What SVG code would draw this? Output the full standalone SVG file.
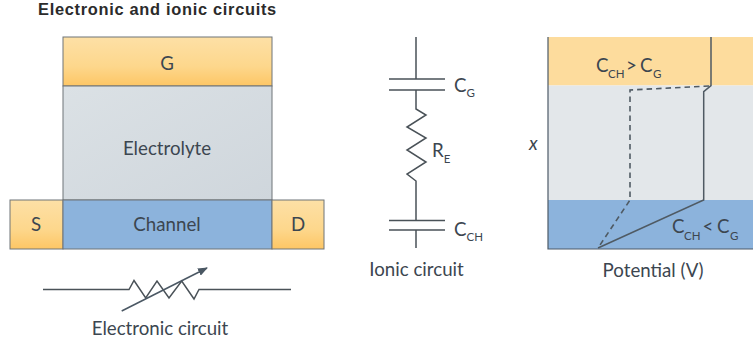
<svg xmlns="http://www.w3.org/2000/svg" width="753" height="349" viewBox="0 0 753 349">
<style>
text{font-family:"Lato","Open Sans","Liberation Sans",sans-serif;font-size:18.7px;fill:#3c4650;}
.title{font-family:"Liberation Sans",Arial,sans-serif;font-size:16.400px;font-weight:700;fill:#2b2b2b;letter-spacing:0.7px;}
.sub{font-size:11.500px;}
.box{stroke:#6f7478;stroke-width:1;}
.w{fill:none;stroke:#4a5258;stroke-width:1.5;}
.m{text-anchor:middle;}
.dash{fill:none;stroke:#4f5a63;stroke-width:1.6;stroke-dasharray:5.500 4;}
</style>
<defs>
<linearGradient id="or" x1="0" y1="0" x2="0" y2="1"><stop offset="0" stop-color="#fde0a6"/><stop offset="0.6" stop-color="#fdd78c"/><stop offset="1" stop-color="#fdc665"/></linearGradient>
<linearGradient id="gr" x1="0" y1="0" x2="1" y2="1"><stop offset="0" stop-color="#dbe1e5"/><stop offset="1" stop-color="#cfd6dc"/></linearGradient>
<marker id="ah" markerUnits="userSpaceOnUse" markerWidth="10" markerHeight="8" refX="9" refY="4" orient="auto"><path d="M0,0L10,4L0,8Z" fill="#4a5763"/></marker>
</defs>
<text class="title" x="38" y="15">Electronic and ionic circuits</text>
<g id="gate"><rect class="box" x="63" y="37" width="209" height="49" fill="url(#or)"/><text class="m" x="167" y="70">G</text></g>
<g id="electrolyte"><rect class="box" x="63" y="86" width="209" height="114" fill="url(#gr)"/><text class="m" x="167" y="155">Electrolyte</text></g>
<g id="source"><rect class="box" x="10" y="200" width="53" height="49" fill="url(#or)"/><text class="m" x="36" y="231">S</text></g>
<g id="channel"><rect class="box" x="63" y="200" width="209" height="49" fill="#8cb3dc"/><text class="m" x="167" y="231">Channel</text></g>
<g id="drain"><rect class="box" x="272" y="200" width="52" height="49" fill="url(#or)"/><text class="m" x="298" y="231">D</text></g>
<g id="connectors">
<path class="w" d="M43,289.500H129L134,280.500L145.700,298L157,281L169,298L181.700,281L194,299L199,289.500H291"/>
<path d="M121.700,311L207,268" fill="none" stroke="#4a5763" stroke-width="1.500" marker-end="url(#ah)"/>
<path class="w" d="M416,37V79M389,79H445M389,90H445M416,90V109L426,115L407,127L426,138L407,150L426,162L407,174L416,181V220.500M389,220.500H445M389,230H445M416,230V248"/>
</g>
<text class="m" x="160" y="335">Electronic circuit</text>
<g id="ionic-labels">
<text x="454" y="92">C<tspan class="sub" dy="5">G</tspan></text>
<text x="432" y="157">R<tspan class="sub" dy="6">E</tspan></text>
<text x="454" y="236">C<tspan class="sub" dy="5">CH</tspan></text>
<text class="m" x="416.500" y="276">Ionic circuit</text>
</g>
<g id="plot">
<rect x="548" y="37" width="205" height="48.500" fill="#fddc9d"/>
<rect x="548" y="85.500" width="205" height="114.500" fill="#e3e7ea"/>
<rect x="548" y="200" width="205" height="49" fill="#8cb3dc"/>
<path d="M548,37V249H753" fill="none" stroke="#4d5a68" stroke-width="1.200"/>
<path d="M711,37V85.700L703.700,91.700V200L598,248" fill="none" stroke="#4f5a63" stroke-width="1.500"/>
<path class="dash" d="M709,86L630,90V200L598,248"/>
<text x="596" y="72">C<tspan class="sub" x="608" y="78">CH</tspan><tspan x="626" y="72">&gt;</tspan><tspan x="640" y="72">C</tspan><tspan class="sub" x="653" y="78">G</tspan></text>
<text x="672" y="233">C<tspan class="sub" x="684" y="240">CH</tspan><tspan x="702.500" y="233">&lt;</tspan><tspan x="717" y="233">C</tspan><tspan class="sub" x="730" y="240">G</tspan></text>
<text x="529" y="150" style="font-style:italic">x</text>
<text class="m" x="653" y="277">Potential (V)</text>
</g>
</svg>
